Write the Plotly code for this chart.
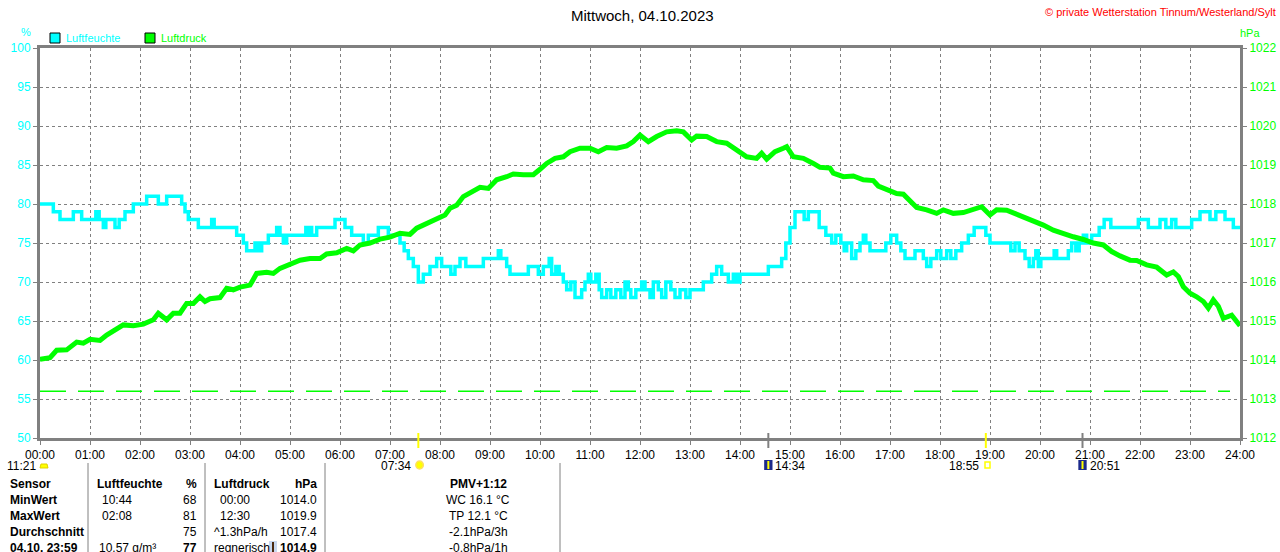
import plotly.graph_objects as go

# Tagesverlauf Luftfeuchte (%) - Stufenwerte (Zeit, Wert)
feuchte_zeit = ["00:00", "00:16", "00:24", "00:40", "00:50", "01:07", "01:11", "01:16", "01:19", "01:30",
                "01:35", "01:42", "01:52", "02:08", "02:22", "02:32", "02:50", "02:54", "02:58", "03:10",
                "03:26", "03:29", "03:56", "04:04", "04:08", "04:18", "04:22", "04:26", "04:34", "04:44",
                "04:48", "04:52", "04:56", "05:19", "05:22", "05:24", "05:26", "05:32", "05:54", "06:06",
                "06:14", "06:28", "06:34", "06:46", "06:58", "07:12", "07:17", "07:22", "07:28", "07:34",
                "07:40", "07:48", "07:56", "08:02", "08:13", "08:18", "08:24", "08:31", "08:52", "09:10",
                "09:13", "09:20", "09:24", "09:46", "09:58", "10:04", "10:11", "10:14", "10:19", "10:23",
                "10:28", "10:32", "10:37", "10:42", "10:50", "10:54", "10:58", "11:01", "11:07", "11:11",
                "11:14", "11:20", "11:25", "11:31", "11:37", "11:42", "11:46", "11:49", "11:55", "12:02",
                "12:06", "12:12", "12:16", "12:22", "12:26", "12:31", "12:37", "12:42", "12:48", "12:55",
                "13:00", "13:16", "13:26", "13:32", "13:38", "13:46", "13:52", "13:56", "14:00", "14:34",
                "14:50", "14:55", "15:00", "15:06", "15:17", "15:22", "15:35", "15:43", "15:50", "15:55",
                "16:01", "16:05", "16:08", "16:14", "16:19", "16:24", "16:28", "16:31", "16:36", "16:55",
                "17:01", "17:08", "17:13", "17:18", "17:30", "17:40", "17:44", "17:49", "17:56", "18:01",
                "18:08", "18:13", "18:19", "18:26", "18:34", "18:41", "18:55", "19:00", "19:25", "19:30",
                "19:35", "19:42", "19:47", "19:52", "19:55", "19:58", "20:01", "20:17", "20:20", "20:34",
                "20:38", "20:43", "20:47", "20:52", "20:56", "21:02", "21:11", "21:17", "21:25", "21:58",
                "22:10", "22:24", "22:31", "22:38", "22:43", "23:02", "23:12", "23:24", "23:31", "23:42",
                "23:52", "24:00"]
feuchte_wert = [80, 79, 78, 79, 78, 79, 78, 77, 78, 77,
                78, 79, 80, 81, 80, 81, 80, 79, 78, 77,
                78, 77, 76, 75, 74, 75, 74, 75, 76, 77,
                76, 75, 76, 77, 76, 77, 76, 77, 78, 77,
                76, 75, 76, 77, 76, 75, 74, 73, 72, 70,
                71, 72, 73, 72, 71, 72, 73, 72, 73, 74,
                73, 72, 71, 72, 71, 72, 73, 71, 72, 71,
                70, 69, 70, 68, 69, 70, 71, 70, 71, 69,
                68, 69, 68, 69, 68, 70, 69, 68, 69, 70,
                69, 68, 70, 69, 68, 70, 69, 68, 69, 68,
                69, 70, 71, 72, 71, 70, 71, 70, 71, 72,
                73, 75, 77, 79, 78, 79, 77, 76, 75, 76,
                75, 74, 75, 73, 74, 75, 76, 75, 74, 75,
                76, 75, 74, 73, 74, 73, 72, 73, 74, 73,
                74, 73, 74, 75, 76, 77, 76, 75, 74, 75,
                74, 73, 72, 73, 74, 72, 73, 74, 73, 74,
                75, 74, 75, 76, 75, 76, 77, 78, 77, 78,
                77, 78, 77, 78, 77, 78, 79, 78, 79, 78,
                77, 77]

# Tagesverlauf Luftdruck (hPa)
druck_zeit = ["00:00", "00:12", "00:20", "00:32", "00:44", "00:52", "01:00", "01:12", "01:20", "01:30",
              "01:40", "01:52", "02:04", "02:16", "02:22", "02:32", "02:40", "02:48", "02:56", "03:04",
              "03:12", "03:18", "03:24", "03:36", "03:44", "03:52", "04:00", "04:12", "04:20", "04:32",
              "04:40", "04:48", "05:00", "05:12", "05:24", "05:36", "05:44", "05:56", "06:08", "06:16",
              "06:24", "06:36", "06:48", "07:00", "07:12", "07:24", "07:32", "07:44", "07:56", "08:06",
              "08:12", "08:20", "08:28", "08:40", "08:48", "08:58", "09:08", "09:20", "09:28", "09:40",
              "09:52", "10:00", "10:08", "10:18", "10:28", "10:36", "10:48", "11:00", "11:10", "11:20",
              "11:32", "11:44", "11:52", "12:00", "12:10", "12:20", "12:32", "12:44", "12:52", "13:02",
              "13:08", "13:20", "13:32", "13:44", "13:56", "14:08", "14:20", "14:26", "14:32", "14:42",
              "14:52", "14:56", "15:04", "15:16", "15:28", "15:36", "15:48", "15:52", "16:04", "16:16",
              "16:28", "16:40", "16:46", "16:58", "17:08", "17:16", "17:24", "17:32", "17:44", "17:56",
              "18:04", "18:16", "18:28", "18:40", "18:50", "19:00", "19:08", "19:20", "19:30", "19:40",
              "19:52", "20:04", "20:16", "20:28", "20:40", "20:52", "21:04", "21:16", "21:26", "21:36",
              "21:48", "21:56", "22:08", "22:20", "22:32", "22:40", "22:46", "22:52", "23:00", "23:08",
              "23:16", "23:22", "23:28", "23:34", "23:40", "23:50", "23:58", "24:00"]
druck_wert = [1014.02, 1014.06, 1014.25, 1014.26, 1014.46, 1014.43, 1014.53, 1014.50, 1014.64, 1014.77,
              1014.90, 1014.88, 1014.92, 1015.03, 1015.20, 1015.03, 1015.20, 1015.20, 1015.45, 1015.45,
              1015.62, 1015.50, 1015.57, 1015.60, 1015.84, 1015.80, 1015.87, 1015.92, 1016.22, 1016.25,
              1016.22, 1016.35, 1016.44, 1016.56, 1016.60, 1016.60, 1016.72, 1016.75, 1016.86, 1016.80,
              1016.95, 1017.00, 1017.10, 1017.15, 1017.25, 1017.22, 1017.38, 1017.50, 1017.63, 1017.72,
              1017.89, 1017.97, 1018.19, 1018.32, 1018.43, 1018.40, 1018.62, 1018.70, 1018.77, 1018.75,
              1018.75, 1018.89, 1019.04, 1019.17, 1019.21, 1019.34, 1019.43, 1019.43, 1019.34, 1019.45,
              1019.43, 1019.49, 1019.60, 1019.77, 1019.60, 1019.73, 1019.85, 1019.88, 1019.85, 1019.64,
              1019.74, 1019.73, 1019.60, 1019.56, 1019.40, 1019.21, 1019.17, 1019.30, 1019.15, 1019.34,
              1019.43, 1019.47, 1019.21, 1019.17, 1019.04, 1018.94, 1018.92, 1018.79, 1018.70, 1018.72,
              1018.62, 1018.60, 1018.46, 1018.36, 1018.27, 1018.25, 1018.10, 1017.91, 1017.85, 1017.76,
              1017.85, 1017.76, 1017.78, 1017.86, 1017.93, 1017.72, 1017.85, 1017.84, 1017.76, 1017.66,
              1017.59, 1017.46, 1017.33, 1017.23, 1017.16, 1017.09, 1017.00, 1016.95, 1016.78, 1016.67,
              1016.56, 1016.55, 1016.44, 1016.38, 1016.18, 1016.26, 1016.14, 1015.88, 1015.71, 1015.62,
              1015.50, 1015.33, 1015.54, 1015.38, 1015.07, 1015.15, 1014.90, 1014.88]

# gestrichelte Linie (hPa)
grenze_zeit = ["00:00", "23:48"]
grenze_wert = [1013.2, 1013.2]

stunden = ["%02d:00" % h for h in range(25)]

# Sonne / Mond
sonne_auf, sonne_unter = "07:34", "18:55"
mond_unter, mond_auf = "14:34", "20:51"
tageslaenge = "11:21"

# Tabelle unten
tabelle = [
    ["Sensor", "Luftfeuchte", "%", "Luftdruck", "hPa", "PMV+1:12"],
    ["MinWert", "10:44", "68", "00:00", "1014.0", "WC 16.1 °C"],
    ["MaxWert", "02:08", "81", "12:30", "1019.9", "TP 12.1 °C"],
    ["Durchschnitt", "", "75", "^1.3hPa/h", "1017.4", "-2.1hPa/3h"],
    ["04.10. 23:59", "10.57 g/m³", "77", "regnerisch", "1014.9", "-0.8hPa/1h"],
]


def minuten(t):
    h, m = t.split(":")
    return int(h) * 60 + int(m)


CYAN = "#00ffff"
GRUEN = "#00ff00"
GRAU = "#808080"
FONT = "Liberation Sans"

W, H = 1280, 552
# Plotbereich in Pixeln
L, R, T, B = 40, 1240, 48, 438
Y_ZEIT = 466  # Zeile mit Sonnen-/Mondzeiten


def px(x):
    return (x - L) / (R - L)


def py(y):
    return (B - y) / (B - T)


fig = go.Figure()

fig.add_trace(go.Scatter(x=[minuten(t) for t in grenze_zeit], y=grenze_wert, yaxis="y2",
                         mode="lines", line=dict(color=GRUEN, width=1.5, dash="26px,12px"),
                         hoverinfo="skip", showlegend=False))
fig.add_trace(go.Scatter(x=[minuten(t) for t in druck_zeit], y=druck_wert, yaxis="y2",
                         mode="lines", name="Luftdruck", line=dict(color=GRUEN, width=5),
                         showlegend=False))
fig.add_trace(go.Scatter(x=[minuten(t) for t in feuchte_zeit], y=feuchte_wert,
                         mode="lines", name="Luftfeuchte", line=dict(color=CYAN, width=3.5, shape="hv"),
                         showlegend=False))

fig.update_layout(
    width=W, height=H,
    margin=dict(l=L, r=W - R, t=T, b=H - B),
    paper_bgcolor="white", plot_bgcolor="white",
    font=dict(family=FONT, size=12, color="black"),
    xaxis=dict(range=[0, 1440], tickvals=[i * 60 for i in range(25)], ticktext=stunden,
               showgrid=True, gridcolor=GRAU, griddash="3px,3px", gridwidth=1,
               showline=True, linecolor=GRAU, linewidth=3, mirror=True,
               ticks="outside", ticklen=4, tickcolor=GRAU, tickwidth=1, automargin=False,
               tickfont=dict(size=12, color="black"), zeroline=False),
    yaxis=dict(range=[50, 100], dtick=5, showgrid=True, gridcolor=GRAU, griddash="3px,3px",
               showline=True, linecolor=GRAU, linewidth=3, automargin=False,
               ticks="outside", ticklen=4, tickcolor=GRAU,
               tickfont=dict(size=12, color=CYAN), zeroline=False),
    yaxis2=dict(range=[1012, 1022], dtick=1, overlaying="y", side="right", showgrid=False,
                showline=True, linecolor=GRAU, linewidth=3, automargin=False,
                ticks="outside", ticklen=4, tickcolor=GRAU,
                tickfont=dict(size=12, color=GRUEN), zeroline=False),
)

ann = []
shapes = []

# Titel und Copyright
ann.append(dict(x=px(642), y=py(15), text="Mittwoch, 04.10.2023", showarrow=False,
                font=dict(size=15, color="black"), xanchor="center", yanchor="middle"))
ann.append(dict(x=px(1278), y=py(12), text="© private Wetterstation Tinnum/Westerland/Sylt",
                showarrow=False, font=dict(size=11, color="red"), xanchor="right", yanchor="middle"))

# Einheiten
ann.append(dict(x=px(26), y=py(32), text="%", showarrow=False, font=dict(size=11, color=CYAN),
                xanchor="center", yanchor="middle"))
ann.append(dict(x=px(1250), y=py(33), text="hPa", showarrow=False, font=dict(size=11, color=GRUEN),
                xanchor="center", yanchor="middle"))

# Legende
for x0, farbe, name in [(50, CYAN, "Luftfeuchte"), (145, GRUEN, "Luftdruck")]:
    shapes.append(dict(type="rect", xref="paper", yref="paper", x0=px(x0), x1=px(x0 + 10),
                       y0=py(43), y1=py(33), fillcolor=farbe, line=dict(color="black", width=1)))
    ann.append(dict(x=px(x0 + 14), y=py(38), text=name, showarrow=False,
                    font=dict(size=11, color=farbe), xanchor="left", yanchor="middle"))

# Sonne / Mond Markierungen
for t, farbe in [(sonne_auf, "#ffff00"), (sonne_unter, "#ffff00"), (mond_unter, GRAU), (mond_auf, GRAU)]:
    shapes.append(dict(type="line", xref="x", yref="paper", x0=minuten(t), x1=minuten(t),
                       y0=py(433), y1=py(448), line=dict(color=farbe, width=2)))

ann.append(dict(x=px(38), y=py(Y_ZEIT), text=tageslaenge, showarrow=False, xanchor="right", yanchor="middle",
                font=dict(size=12)))
shapes.append(dict(type="path", xref="paper", yref="paper",
                   path="M %f %f L %f %f L %f %f L %f %f Z" % (px(40), py(468), px(41), py(464),
                                                             px(47), py(464), px(48), py(468)),
                   fillcolor="#ffff00", line=dict(color="#e0d000", width=1)))
ann.append(dict(x=minuten(sonne_auf) - 6, xref="x", y=py(Y_ZEIT), text=sonne_auf, showarrow=False,
                xanchor="right", yanchor="middle", font=dict(size=12)))
shapes.append(dict(type="circle", xref="x", yref="paper", x0=minuten(sonne_auf) - 3, x1=minuten(sonne_auf) + 6,
                   y0=py(469), y1=py(461), fillcolor="#ffff00", line=dict(color="#ffe060", width=1.5)))
ann.append(dict(x=minuten(sonne_unter) - 6, xref="x", y=py(Y_ZEIT), text=sonne_unter, showarrow=False,
                xanchor="right", yanchor="middle", font=dict(size=12)))
shapes.append(dict(type="rect", xref="x", yref="paper", x0=minuten(sonne_unter) - 1, x1=minuten(sonne_unter) + 5,
                   y0=py(468), y1=py(462), fillcolor="white", line=dict(color="#ffff00", width=1.5)))
for t in [mond_unter, mond_auf]:
    shapes.append(dict(type="rect", xref="x", yref="paper", x0=minuten(t) - 5, x1=minuten(t) + 5,
                       y0=py(470), y1=py(460), fillcolor="#1c2a8c", line=dict(width=0)))
    shapes.append(dict(type="line", xref="x", yref="paper", x0=minuten(t), x1=minuten(t),
                       y0=py(469), y1=py(461), line=dict(color="#ffff00", width=2)))
    ann.append(dict(x=minuten(t) + 6, xref="x", y=py(Y_ZEIT), text=t, showarrow=False,
                    xanchor="left", yanchor="middle", font=dict(size=12)))

# Tabelle
for x in [88, 205, 325, 560]:
    shapes.append(dict(type="line", xref="paper", yref="paper", x0=px(x), x1=px(x),
                       y0=py(463), y1=py(560), line=dict(color=GRAU, width=1)))


def t(s, b=False):
    return "<b>%s</b>" % s if (b and s) else s


zeilen_y = [484, 500, 516, 532, 548]
for i, zeile in enumerate(tabelle):
    y = py(zeilen_y[i])
    fett = (i == 0)
    ann.append(dict(x=px(8), y=y, text=t(zeile[0], True), showarrow=False, xanchor="left", yanchor="middle"))
    ann.append(dict(x=px(95 if fett else 100 if i < 3 else 97), y=y, text=t(zeile[1], fett), showarrow=False,
                    xanchor="left", yanchor="middle"))
    ann.append(dict(x=px(199), y=y, text=t(zeile[2], fett or i == 4), showarrow=False,
                    xanchor="right", yanchor="middle"))
    ann.append(dict(x=px(212 if (fett or i > 2) else 218), y=y, text=t(zeile[3], fett), showarrow=False,
                    xanchor="left", yanchor="middle"))
    ann.append(dict(x=px(319), y=y, text=t(zeile[4], fett or i == 4), showarrow=False,
                    xanchor="right", yanchor="middle"))
    ann.append(dict(x=px(478), y=y, text=t(zeile[5], fett), showarrow=False,
                    xanchor="center", yanchor="middle"))

# Tendenzpfeil vor dem aktuellen Luftdruck
shapes.append(dict(type="rect", xref="paper", yref="paper", x0=px(269), x1=px(277),
                   y0=py(553), y1=py(541), fillcolor="#c8d8f0", line=dict(width=0)))
shapes.append(dict(type="line", xref="paper", yref="paper", x0=px(273), x1=px(273),
                   y0=py(552), y1=py(542), line=dict(color="#4a2a10", width=2)))

for a in ann:
    a.setdefault("xref", "paper")
    a.setdefault("yref", "paper")
    a.setdefault("font", dict(size=12, color="black"))

fig.update_layout(annotations=ann, shapes=shapes)

# Seitenrand entfernen, damit die Figur genau das Fenster füllt
fig.write_html("out.html", config={"displayModeBar": False},
               post_script="document.body.style.margin='0';document.body.style.overflow='hidden';")
